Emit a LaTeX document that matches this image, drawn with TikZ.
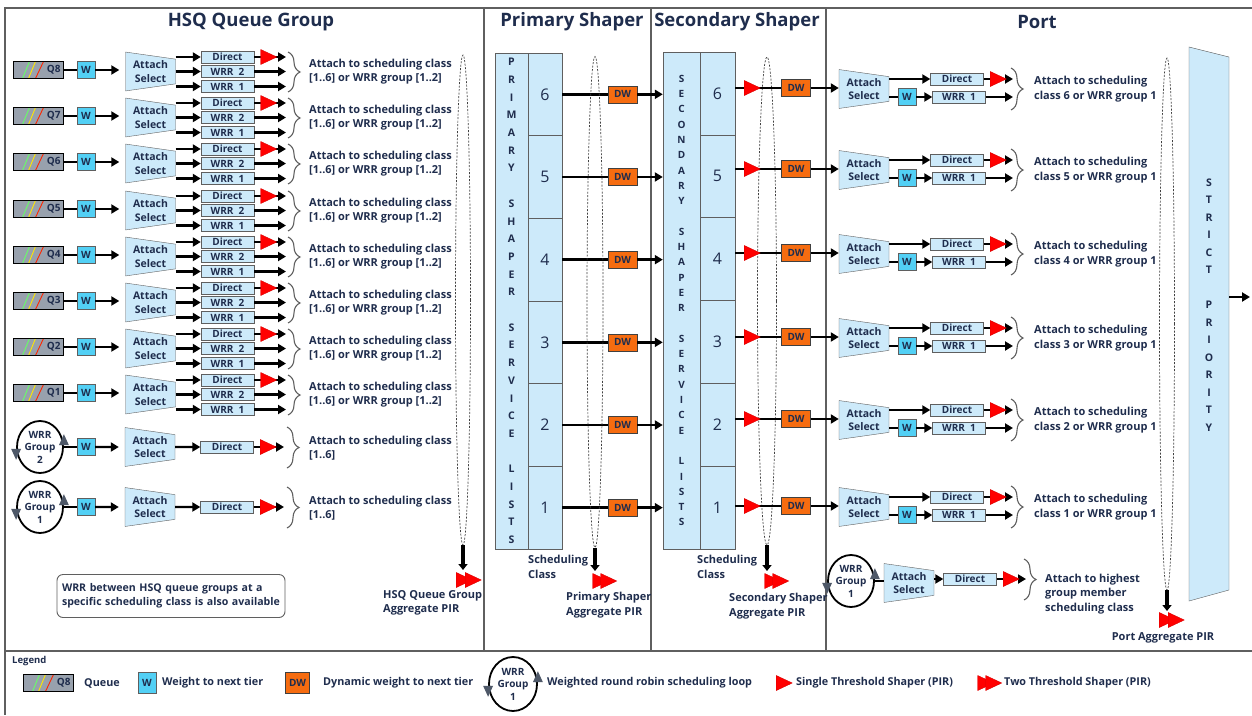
\documentclass[tikz,border=0pt]{standalone}
\usepackage{fontspec}
\setmainfont{Open Sans}
\usepackage{tikz}
\usetikzlibrary{shapes.geometric,arrows.meta,decorations.pathreplacing}

\definecolor{ink}{RGB}{31,45,77}
\definecolor{paleblue}{RGB}{205,234,250}
\definecolor{wcyan}{RGB}{82,208,245}
\definecolor{dworange}{RGB}{246,108,16}
\definecolor{qgray}{RGB}{152,161,173}
\definecolor{rule}{RGB}{95,95,95}
\definecolor{spingray}{RGB}{78,88,104}

\newcommand{\lblfont}{\bfseries\fontsize{11}{14.5}\selectfont}
\newcommand{\lgdfont}{\bfseries\fontsize{10.8}{11}\selectfont}
\newcommand{\boxfont}{\bfseries\fontsize{10}{10}\selectfont}
\newcommand{\ttlfont}{\bfseries\fontsize{18.5}{19}\selectfont}

\begin{document}
\begin{tikzpicture}
[x=1pt,y=-1pt]
\tikzset{every node/.append style={text=ink}}
\tikzset{ln/.style={line width=2.4pt}}
\tikzset{arr/.style={ln,-{Triangle[length=8pt,width=9pt]}}}
\tikzset{drop/.style={line width=4pt,-{Triangle[length=6pt,width=9pt]}}}
\tikzset{frm/.style={draw=rule,line width=1.2pt}}
\tikzset{queue/.style={draw=black,line width=1.5pt,fill=qgray,minimum height=17pt,text width=44pt,inner xsep=3pt,inner ysep=0pt,align=right,font=\boxfont,
  path picture={\draw[green!60!white,line width=.9pt] ([xshift=9pt]path picture bounding box.south west) -- ([xshift=16pt]path picture bounding box.north west);
  \draw[yellow!90!orange,line width=.9pt] ([xshift=15pt]path picture bounding box.south west) -- ([xshift=22pt]path picture bounding box.north west);
  \draw[orange!30!red,line width=.9pt] ([xshift=22pt]path picture bounding box.south west) -- ([xshift=30pt]path picture bounding box.north west);}}}
\tikzset{wbox/.style={draw=rule,fill=wcyan,minimum width=18pt,minimum height=17pt,inner sep=0pt,font=\boxfont}}
\tikzset{dwbox/.style={draw=black!75,fill=dworange,minimum width=29pt,minimum height=17pt,inner sep=0pt,font=\boxfont}}
\tikzset{pathbox/.style={draw=rule,fill=paleblue,minimum width=53pt,minimum height=12pt,inner sep=0pt,font=\boxfont}}
\tikzset{selbox/.style={trapezium,trapezium left angle=80,trapezium right angle=80,shape border rotate=270,trapezium stretches=true,minimum width=39pt,minimum height=50pt,inner sep=0pt,draw=rule,fill=paleblue,align=center,font=\bfseries\fontsize{10.5}{13.5}\selectfont}}
\tikzset{shaper/.style={isosceles triangle,isosceles triangle stretches,minimum width=15pt,minimum height=16pt,inner sep=0pt,fill=red,draw=red!85!black}}
\tikzset{spin/.style={isosceles triangle,isosceles triangle stretches,minimum width=10pt,minimum height=11pt,inner sep=0pt,fill=spingray}}
\tikzset{wrrloop/.style={ellipse,draw=black,line width=1.8pt,minimum width=46pt,minimum height=52pt,inner sep=0pt,align=center,font=\bfseries\fontsize{10}{12.5}\selectfont}}
\tikzset{sweep/.style={ellipse,draw=black!75,dash pattern=on 2pt off 1.5pt,line width=.7pt,inner sep=0pt}}
\tikzset{brc/.style={decorate,decoration={brace,amplitude=12pt},draw=rule,line width=1.1pt}}
\tikzset{note/.style={anchor=west,inner sep=0pt,align=left,font=\lblfont}}
\tikzset{listcol/.style={draw=rule,fill=paleblue,inner sep=0pt,align=center,font=\bfseries\fontsize{10.5}{17.7}\selectfont}}
\tikzset{slot/.style={draw=rule,fill=paleblue,inner sep=0pt,font=\fontsize{16}{16}\selectfont}}

\useasboundingbox (0,0) rectangle (1252,715);

\draw[frm] (1252,8) -- (5,8) -- (5,715);
\draw[frm] (5,651) -- (1252,651);
\foreach \x in {484,651,826}
	\draw[frm] (\x,8) -- (\x,651);

\node[font=\ttlfont] (h1) at (251,22) {HSQ Queue Group};
\node[font=\ttlfont] (h2) at (572,22) {Primary Shaper};
\node[font=\ttlfont] (h3) at (737,22) {Secondary Shaper};
\node[font=\ttlfont] (h4) at (1037,22) {Port};

\foreach \q/\y in {8/70,7/116,6/162,5/209,4/255,3/301,2/347,1/393}{
	\node[queue] (q\q) at (38.5,\y) {Q\q};
	\node[wbox] (w\q) at (86,\y) {W};
	\node[selbox] (as\q) at (150.5,\y+1.5) {Attach\\Select};
	\node[pathbox] (d\q) at (227.5,\y-13) {Direct};
	\node[pathbox] (b\q) at (227.5,\y+1.5) {WRR\enspace2};
	\node[pathbox] (a\q) at (227.5,\y+16.5) {WRR\enspace1};
	\coordinate (e\q) at (286,\y);
	\draw[ln] (q\q) -- (w\q);
	\draw[arr,shorten >=6pt] (w\q) -- (w\q -| as\q.west);
	\foreach \n in {d,b,a}{
		\draw[arr] (as\q.east |- \n\q) -- (\n\q);
		\draw[arr] (\n\q) -- (\n\q -| e\q);}
	\node[shaper] (r\q) at (265.5,\y-13) {};
	\draw[brc] (288,\y-18) -- (288,\y+22);
	\node[note] (t\q) at (309,\y+1.5) {Attach to scheduling class\\{}[1..6] or WRR group [1..2]};
}

\foreach \g/\y in {2/447,1/507}{
	\node[wrrloop] (g\g) at (40,\y) {WRR\\Group\\\g};
	\node[spin,rotate=-90] (gl\g) at ([yshift=-5pt]g\g.west) {};
	\node[spin,rotate=90] (gr\g) at ([yshift=5pt]g\g.east) {};
	\node[wbox] (gw\g) at (86,\y) {W};
	\node[selbox] (gs\g) at (150,\y) {Attach\\Select};
	\node[pathbox] (gd\g) at (227,\y) {Direct};
	\coordinate (ge\g) at (284,\y);
	\draw[ln] (g\g) -- (gw\g);
	\draw[arr,shorten >=6pt] (gw\g) -- (gs\g);
	\draw[arr] (gs\g) -- (gd\g);
	\draw[arr] (gd\g) -- (ge\g);
	\node[shaper] (gr\g) at (265,\y) {};
	\draw[brc] (287,\y-20) -- (287,\y+21);
	\node[note] (gt\g) at (309,\y+1) {Attach to scheduling class\\{}[1..6]};
}

\node[draw=rule,rounded corners=6pt,line width=.9pt,minimum width=228pt,minimum height=43pt,text width=218pt,align=left,font=\bfseries\fontsize{10.6}{14}\selectfont] (wn) at (171,596) {WRR between HSQ queue groups at a\\specific scheduling class is also available};

\node[sweep,minimum width=15pt,minimum height=490pt] (lh) at (463,300) {};
\coordinate (lhe) at (463,570);
\draw[drop] (lh.south) -- (lhe);
\node[shaper] (ha) at (461,580) {};
\node[shaper] (hb) at (470,580) {};
\node[note,anchor=north west] (hn) at (383,590) {HSQ Queue Group\\Aggregate PIR};

\node[listcol,minimum width=33pt,minimum height=496pt] (pl) at (511.5,301) {P\\R\\I\\M\\A\\R\\Y\\~\\S\\H\\A\\P\\E\\R\\~\\S\\E\\R\\V\\I\\C\\E\\~\\L\\I\\S\\T\\S};
\node[listcol,minimum width=37pt,minimum height=497pt,font=\bfseries\fontsize{10}{15.3}\selectfont] (sl) at (681.5,300.5) {S\\E\\C\\O\\N\\D\\A\\R\\Y\\~\\S\\H\\A\\P\\E\\R\\~\\S\\E\\R\\V\\I\\C\\E\\~\\L\\I\\S\\T\\S};

\foreach \k in {1,...,6}{
	\node[slot,minimum width=34pt,minimum height=82.67pt] (p\k) at (545,{549-82.67*\k+41.33}) {\k};
	\node[slot,minimum width=35pt,minimum height=82.83pt] (s\k) at (717.5,{549-82.83*\k+41.42}) {\k};
	\node[dwbox] (pdw\k) at (622.5,{549-82.67*\k+41.33}) {DW};
	\draw[ln] (p\k) -- (pdw\k);
	\draw[arr] (pdw\k) -- (pdw\k -| sl.west);
}

\node[sweep,minimum width=16pt,minimum height=491pt] (lp) at (595,302) {};
\coordinate (lpe) at (595,571);
\draw[drop] (lp.south) -- (lpe);
\node[shaper] (pa) at (597.5,581) {};
\node[shaper] (pb) at (605.5,581) {};
\node[note,anchor=north west] (pn1) at (528,555) {Scheduling\\Class};
\node[note,anchor=north west] (pn2) at (566,592) {Primary Shaper\\Aggregate PIR};

\node[sweep,minimum width=19pt,minimum height=488pt] (ls) at (767,301) {};
\coordinate (lse) at (767,571);
\draw[drop] (ls.south) -- (lse);
\node[shaper] (sa) at (769.5,581) {};
\node[shaper] (sb) at (777.5,581) {};
\node[note,anchor=north west] (sn1) at (697,555) {Scheduling\\Class};
\node[note,anchor=north west] (sn2) at (729,593) {Secondary Shaper\\Aggregate PIR};

\foreach \k/\y in {6/88,5/169,4/253,3/337,2/419,1/506}{
	\coordinate (y\k) at (0,\y);
	\node[dwbox] (sdw\k) at (796,\y) {DW};
	\node[selbox] (pa\k) at (864,\y+1) {Attach\\Select};
	\draw[ln] (s\k.east |- y\k) -- (sdw\k);
	\draw[arr] (sdw\k) -- (sdw\k -| pa\k.west);
	\node[shaper] (sr\k) at (749,\y) {};
	\node[pathbox] (pdir\k) at (957,\y-9) {Direct};
	\node[wbox] (pw\k) at (907,\y+9) {W};
	\node[pathbox] (pwr\k) at (959,\y+9) {WRR\enspace1};
	\coordinate (pe\k) at (1013,\y);
	\draw[arr] (pa\k.east |- pdir\k) -- (pdir\k);
	\draw[ln] (pa\k.east |- pw\k) -- (pw\k);
	\draw[arr] (pw\k) -- (pwr\k);
	\draw[arr] (pdir\k) -- (pdir\k -| pe\k);
	\draw[arr] (pwr\k) -- (pwr\k -| pe\k);
	\node[shaper] (pr\k) at (995,\y-9) {};
	\draw[brc] (1011,\y-20) -- (1011,\y+22);
	\node[note] (pt\k) at (1034,\y+1) {Attach to scheduling\\class \k{} or WRR group 1};
}

\node[wrrloop] (pg) at (851,581) {WRR\\Group\\1};
\node[spin,rotate=-90] (pgl) at ([yshift=-5pt]pg.west) {};
\node[spin,rotate=90] (pgr) at ([yshift=5pt]pg.east) {};
\node[selbox] (pgs) at (909,583) {Attach\\Select};
\node[pathbox] (pgd) at (970,579) {Direct};
\coordinate (pge) at (1026,579);
\draw[ln] (pg.east) -- (pg.east -| pgs.west);
\draw[arr] (pgs.east |- pgd) -- (pgd);
\draw[arr] (pgd) -- (pge);
\node[shaper] (pgr1) at (1008,579) {};
\draw[brc] (1024,559) -- (1024,600);
\node[note] (pgt) at (1045,594) {Attach to highest\\group member\\scheduling class};

\node[sweep,minimum width=15pt,minimum height=532pt] (lt) at (1167,324) {};
\coordinate (lte) at (1167,611);
\draw[drop] (lt.south) -- (lte);
\node[shaper] (ta) at (1164,620) {};
\node[shaper] (tb) at (1173,620) {};
\node[font=\lblfont,inner sep=0pt] (tn) at (1163,638) {Port Aggregate PIR};

\filldraw[fill=paleblue,draw=rule] (1189,47) -- (1229,57) -- (1229,590) -- (1189,601) -- cycle;
\node[inner sep=0pt,minimum width=40pt,align=center,font=\bfseries\fontsize{10.5}{17.5}\selectfont] (sp) at (1209,305) {S\\T\\R\\I\\C\\T\\~\\P\\R\\I\\O\\R\\I\\T\\Y};
\coordinate (out) at (1250,297);
\draw[arr] (out -| sp.east) -- (out);

\node[note,font=\bfseries\fontsize{9.5}{10}\selectfont] (lg) at (12,661) {Legend};
\node[queue] (lq) at (48.5,683) {Q8};
\node[note,font=\lgdfont] (lqt) at (84,683) {Queue};
\node[wbox,minimum width=18pt,minimum height=21pt] (lw) at (147,683) {W};
\node[note,font=\lgdfont] (lwt) at (162,683) {Weight to next tier};
\node[dwbox,minimum width=24pt,minimum height=21pt] (ld) at (297.5,683) {DW};
\node[note,font=\lgdfont] (ldt) at (323,683) {Dynamic weight to next tier};
\node[wrrloop,minimum width=48pt,minimum height=54pt] (lgr) at (513,684) {WRR\\Group\\1};
\node[spin,rotate=-90] (lgl) at ([yshift=-5pt]lgr.west) {};
\node[spin,rotate=90] (lgu) at ([yshift=5pt]lgr.east) {};
\node[note,font=\lgdfont] (lgt) at (547,683) {Weighted round robin scheduling loop};
\node[shaper] (ls1) at (781,683) {};
\node[note,font=\lgdfont] (lst) at (796,683) {Single Threshold Shaper (PIR)};
\node[shaper] (ld1) at (982.5,683) {};
\node[shaper] (ld2) at (990.5,683) {};
\node[note,font=\lgdfont] (ldt2) at (1004,683) {Two Threshold Shaper (PIR)};

\end{tikzpicture}
\end{document}
